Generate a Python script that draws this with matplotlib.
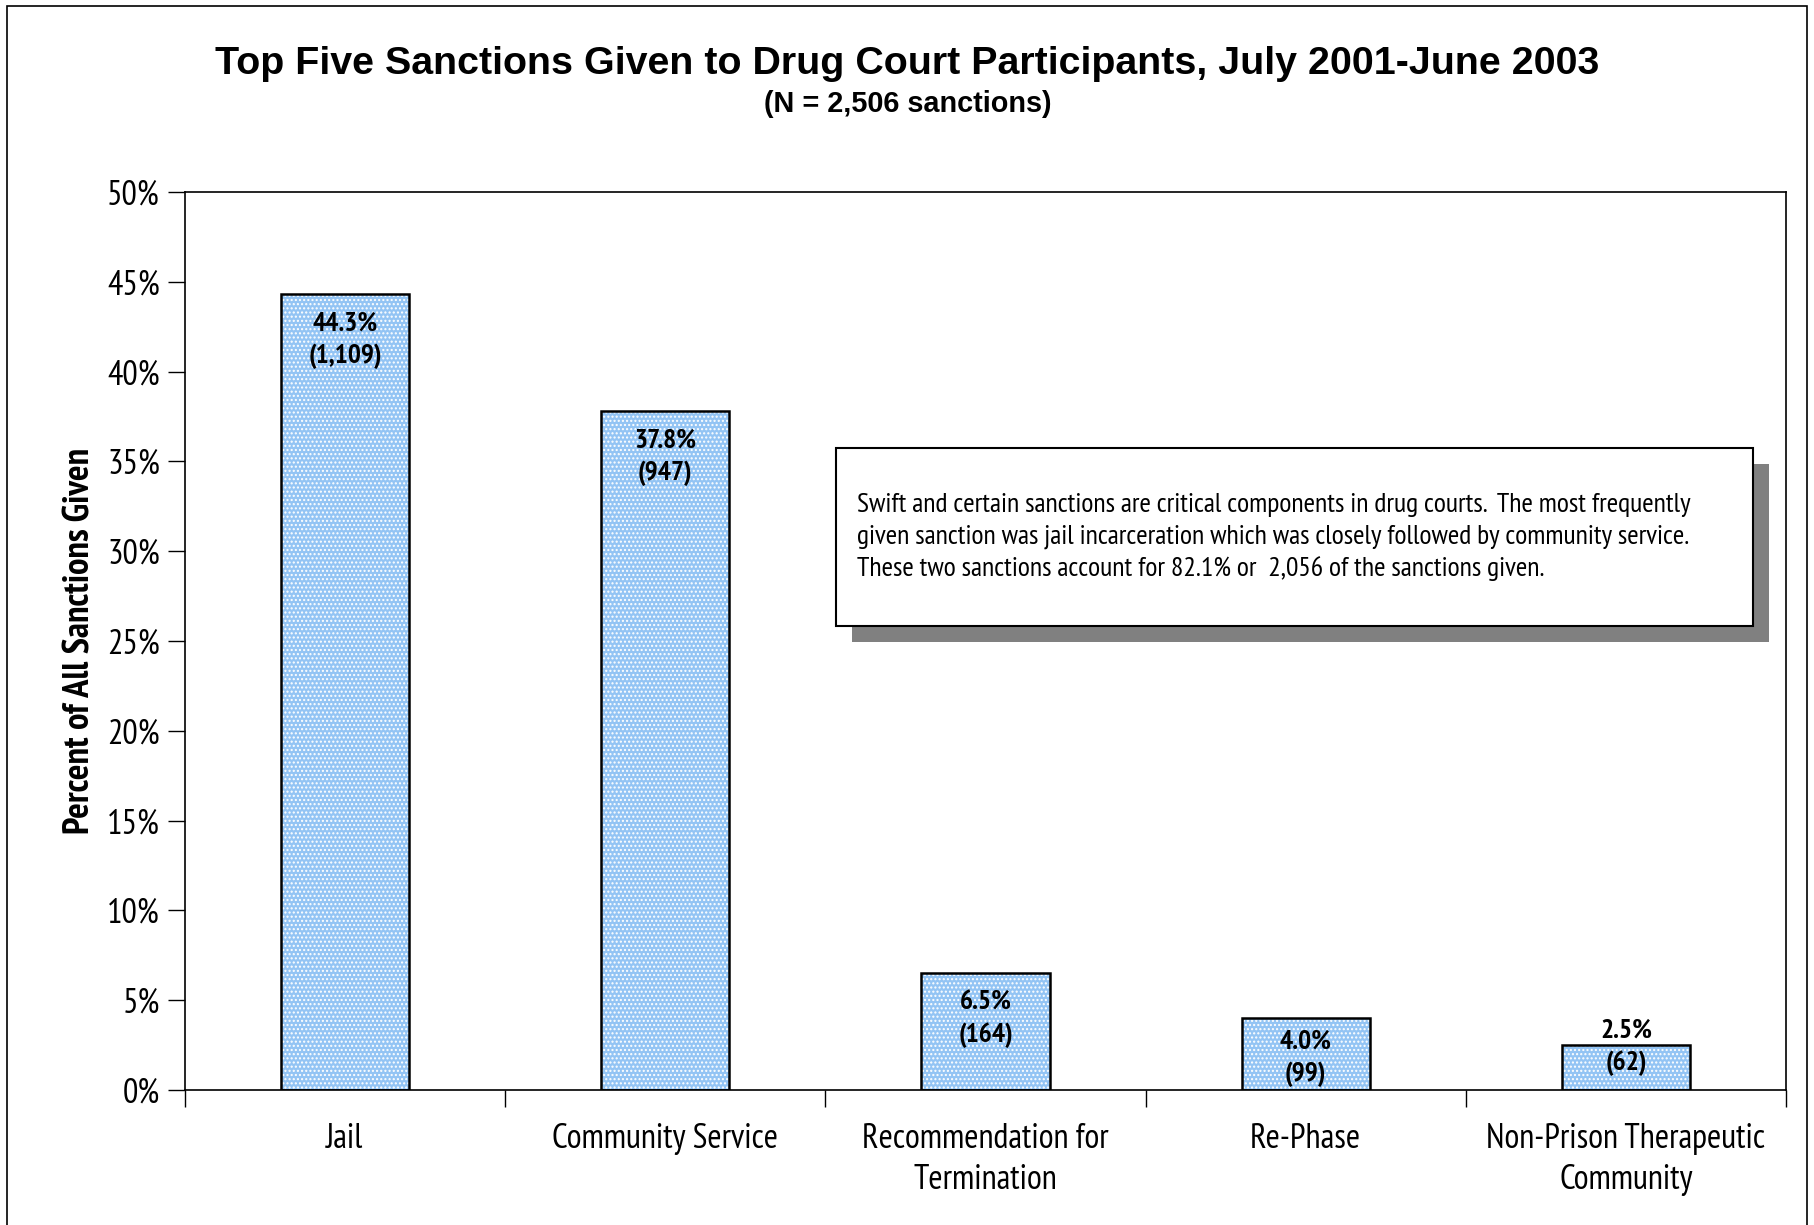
import matplotlib.pyplot as plt
from matplotlib.patches import Rectangle
from matplotlib.ticker import FixedLocator, PercentFormatter

categories = ['Jail', 'Community Service', 'Recommendation for\nTermination',
              'Re-Phase', 'Non-Prison Therapeutic\nCommunity']
percents = [44.3, 37.8, 6.5, 4.0, 2.5]
counts = [1109, 947, 164, 99, 62]

title = 'Top Five Sanctions Given to Drug Court Participants, July 2001-June 2003'
subtitle = '(N = 2,506 sanctions)'
note = ('Swift and certain sanctions are critical components in drug courts.  The most frequently\n'
        'given sanction was jail incarceration which was closely followed by community service.\n'
        'These two sanctions account for 82.1% or  2,056 of the sanctions given.')

NARROW = ['PT Sans Narrow', 'DejaVu Sans']
W, H = 1815, 1225

fig = plt.figure(figsize=(W / 100, H / 100), dpi=100)

def fx(px):
    return px / W

def fy(py):
    return 1 - py / H

# outer chart frame
fig.patches.append(Rectangle((fx(7), -0.05), fx(1807) - fx(7), fy(6) + 0.05,
                             transform=fig.transFigure, fill=False,
                             edgecolor='black', linewidth=1.2))

ax = fig.add_axes([fx(185), fy(1090), fx(1786) - fx(185), fy(192) - fy(1090)])
x = range(len(categories))

# pale blue fill with white dotted texture, then black outlines on top
ax.bar(x, percents, width=0.40, color='#93c4f4', edgecolor='white',
       hatch='....', linewidth=0, zorder=2)
ax.bar(x, percents, width=0.40, fill=False, edgecolor='black',
       linewidth=1.8, zorder=3)

# vertical pixel shift of each two-line label from its bar top
label_shift = [-46, -46, -46, -40, -2]
for i, (p, c) in enumerate(zip(percents, counts)):
    ax.annotate(f'{p:.1f}%\n({c:,})', xy=(i, p), xytext=(0, label_shift[i]),
                textcoords='offset pixels', ha='center', va='center',
                fontsize=19.8, fontweight='bold', family=NARROW,
                linespacing=1.38, zorder=4)

ax.set_xlim(-0.5, len(categories) - 0.5)
ax.set_ylim(0, 50)
ax.yaxis.set_major_locator(FixedLocator(range(0, 51, 5)))
ax.yaxis.set_major_formatter(PercentFormatter(decimals=0))
ax.set_xticks(list(x))
ax.set_xticklabels(categories, family=NARROW, fontsize=24.7, linespacing=1.35)
ax.xaxis.set_minor_locator(FixedLocator([i - 0.5 for i in range(len(categories) + 1)]))
ax.tick_params(axis='x', which='major', length=0, pad=24)
ax.tick_params(axis='x', which='minor', length=12, width=1)
ax.tick_params(axis='y', length=12, width=1, pad=6)
for lab in ax.get_yticklabels():
    lab.set_family(NARROW)
    lab.set_fontsize(24.7)
for s in ax.spines.values():
    s.set_linewidth(1.2)

ax.set_ylabel('Percent of All Sanctions Given', family=NARROW, fontsize=26.4,
              fontweight='bold', labelpad=8)

fig.text(0.5, fy(64), title, ha='center', va='center', fontsize=28.4,
         fontweight='bold', family=['Liberation Sans', 'DejaVu Sans'])
fig.text(0.5, fy(104), subtitle, ha='center', va='center', fontsize=20.8,
         fontweight='bold', family=['Liberation Sans', 'DejaVu Sans'])

# note box with drop shadow
fig.patches.append(Rectangle((fx(852), fy(642)), fx(1769) - fx(852), fy(464) - fy(642),
                             transform=fig.transFigure, facecolor='#808080',
                             edgecolor='none', zorder=5))
fig.patches.append(Rectangle((fx(836), fy(626)), fx(1753) - fx(836), fy(448) - fy(626),
                             transform=fig.transFigure, facecolor='white',
                             edgecolor='black', linewidth=1.5, zorder=6))
fig.text(fx(857), fy(537), note, ha='left', va='center', fontsize=20,
         family=NARROW, linespacing=1.4, zorder=7)

fig.savefig('out.png', dpi=100)
